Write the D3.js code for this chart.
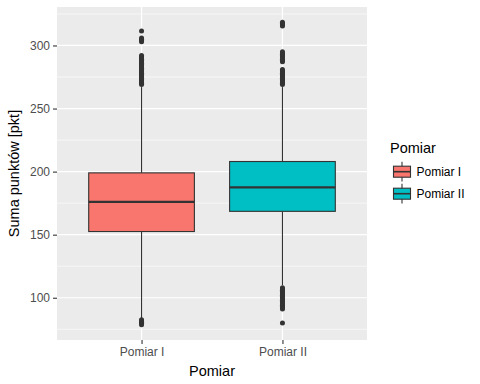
<!DOCTYPE html>
<html>
<head>
<meta charset="utf-8">
<script src="https://cdn.jsdelivr.net/npm/d3@7"></script>
<style>
  body { margin: 0; background: #fff; }
  svg { font-family: "Liberation Sans", Arial, sans-serif; }
</style>
</head>
<body>
<svg width="480" height="384"></svg>
<script>
const groups = ["Pomiar I", "Pomiar II"];
const colours = ["#F8766D", "#00BFC4"];
const q1 = [152.5, 168.5];
const medians = [176, 187.5];
const q3 = [199, 208];
const whiskerLow = [83, 110];
const whiskerHigh = [267, 267];
const outliersI = [78.5, 79.5, 80.5, 81.5, 82.5,
  269, 270, 271, 272, 273, 274, 275, 276, 277, 278, 279, 280,
  281, 282, 283, 284, 285, 286, 287, 288, 289, 290, 291, 292,
  303, 304, 305, 306, 311.5];
const outliersII = [80, 91, 92, 93, 94, 95, 96, 97, 98, 99, 100, 101, 102, 103,
  104, 105, 106, 107, 108,
  269, 270, 271, 272, 273, 274, 275, 276, 277, 278, 279, 280, 281,
  287, 288, 289, 290, 291, 292, 293, 294, 295,
  315.5, 316.5, 317.5, 318.5];
const outliers = [outliersI, outliersII];
const yTicks = [100, 150, 200, 250, 300];
const yMinor = [75, 125, 175, 225, 275, 325];

const svg = d3.select('svg');
const panel = {left: 57, top: 7, right: 367, bottom: 340};

const allVals = outliersI.concat(outliersII, whiskerLow, whiskerHigh);
const ext = d3.extent(allVals);
const pad = (ext[1] - ext[0]) * 0.05;

const y = d3.scaleLinear()
  .domain([ext[0] - pad, ext[1] + pad])
  .range([panel.bottom, panel.top]);

const x = d3.scalePoint()
  .domain(groups)
  .range([panel.left, panel.right])
  .padding(0.6);

const boxW = x.step() * 0.75;

// panel background
svg.append('rect')
  .attr('x', panel.left).attr('y', panel.top)
  .attr('width', panel.right - panel.left)
  .attr('height', panel.bottom - panel.top)
  .attr('fill', '#EBEBEB');

// grid
svg.selectAll('.minor').data(yMinor.filter(function(d) { return y(d) >= panel.top && y(d) <= panel.bottom; }))
  .enter().append('line')
  .attr('x1', panel.left).attr('x2', panel.right)
  .attr('y1', function(d) { return y(d); }).attr('y2', function(d) { return y(d); })
  .attr('stroke', '#fff').attr('stroke-width', 0.6);

svg.selectAll('.major').data(yTicks)
  .enter().append('line')
  .attr('x1', panel.left).attr('x2', panel.right)
  .attr('y1', function(d) { return y(d); }).attr('y2', function(d) { return y(d); })
  .attr('stroke', '#fff').attr('stroke-width', 1.2);

svg.selectAll('.vgrid').data(groups)
  .enter().append('line')
  .attr('x1', function(d) { return x(d); }).attr('x2', function(d) { return x(d); })
  .attr('y1', panel.top).attr('y2', panel.bottom)
  .attr('stroke', '#fff').attr('stroke-width', 1.2);

// boxes
const g = svg.selectAll('.box').data(groups)
  .enter().append('g');

g.append('line')
  .attr('x1', function(d) { return x(d); }).attr('x2', function(d) { return x(d); })
  .attr('y1', function(d, i) { return y(whiskerHigh[i]); })
  .attr('y2', function(d, i) { return y(q3[i]); })
  .attr('stroke', '#333').attr('stroke-width', 1.1);

g.append('line')
  .attr('x1', function(d) { return x(d); }).attr('x2', function(d) { return x(d); })
  .attr('y1', function(d, i) { return y(q1[i]); })
  .attr('y2', function(d, i) { return y(whiskerLow[i]); })
  .attr('stroke', '#333').attr('stroke-width', 1.1);

g.append('rect')
  .attr('x', function(d) { return x(d) - boxW / 2; })
  .attr('width', boxW)
  .attr('y', function(d, i) { return y(q3[i]); })
  .attr('height', function(d, i) { return y(q1[i]) - y(q3[i]); })
  .attr('fill', function(d, i) { return colours[i]; })
  .attr('stroke', '#333').attr('stroke-width', 1.1);

g.append('line')
  .attr('x1', function(d) { return x(d) - boxW / 2; })
  .attr('x2', function(d) { return x(d) + boxW / 2; })
  .attr('y1', function(d, i) { return y(medians[i]); })
  .attr('y2', function(d, i) { return y(medians[i]); })
  .attr('stroke', '#333').attr('stroke-width', 2.2);

g.each(function(d, i) {
  d3.select(this).selectAll('circle').data(outliers[i])
    .enter().append('circle')
    .attr('cx', x(d))
    .attr('cy', function(v) { return y(v); })
    .attr('r', 2.5)
    .attr('fill', '#333');
});

// axes
const yAxis = svg.append('g')
  .attr('transform', 'translate(' + panel.left + ',0)')
  .call(d3.axisLeft(y).tickValues(yTicks).tickSize(4).tickPadding(3));

const xAxis = svg.append('g')
  .attr('transform', 'translate(0,' + panel.bottom + ')')
  .call(d3.axisBottom(x).tickSize(4).tickPadding(3));

[yAxis, xAxis].forEach(function(a) {
  a.select('.domain').remove();
  a.selectAll('.tick line').attr('stroke', '#333').attr('stroke-width', 1.1);
  a.selectAll('.tick text')
    .attr('fill', '#4D4D4D')
    .style('font-size', '12px')
    .style('font-family', '"Liberation Sans", Arial, sans-serif');
});

// titles
svg.append('text')
  .attr('x', (panel.left + panel.right) / 2).attr('y', 376)
  .attr('text-anchor', 'middle')
  .style('font-size', '14.5px')
  .text('Pomiar');

svg.append('text')
  .attr('transform', 'translate(19,' + (panel.top + panel.bottom) / 2 + ') rotate(-90)')
  .attr('text-anchor', 'middle')
  .style('font-size', '14.5px')
  .text('Suma punktów [pkt]');

// legend
const legend = svg.append('g');
legend.append('text')
  .attr('x', 390).attr('y', 153)
  .style('font-size', '14.5px')
  .text('Pomiar');

const keyH = 22;
const key = legend.selectAll('.key').data(groups)
  .enter().append('g')
  .attr('transform', function(d, i) { return 'translate(393,' + (160.7 + i * keyH) + ')'; });

key.append('line')
  .attr('x1', 9).attr('x2', 9)
  .attr('y1', keyH * 0.05).attr('y2', keyH * 0.95)
  .attr('stroke', '#333').attr('stroke-width', 1.1);

key.append('rect')
  .attr('x', 0.5).attr('width', 17)
  .attr('y', keyH * 0.25).attr('height', keyH * 0.5)
  .attr('fill', function(d, i) { return colours[i]; })
  .attr('stroke', '#333').attr('stroke-width', 1.1);

key.append('line')
  .attr('x1', 0.5).attr('x2', 17.5)
  .attr('y1', keyH / 2).attr('y2', keyH / 2)
  .attr('stroke', '#333').attr('stroke-width', 1.6);

key.append('text')
  .attr('x', 23.5).attr('y', keyH / 2 + 4.3)
  .style('font-size', '12px')
  .text(function(d) { return d; });
</script>
</body>
</html>
